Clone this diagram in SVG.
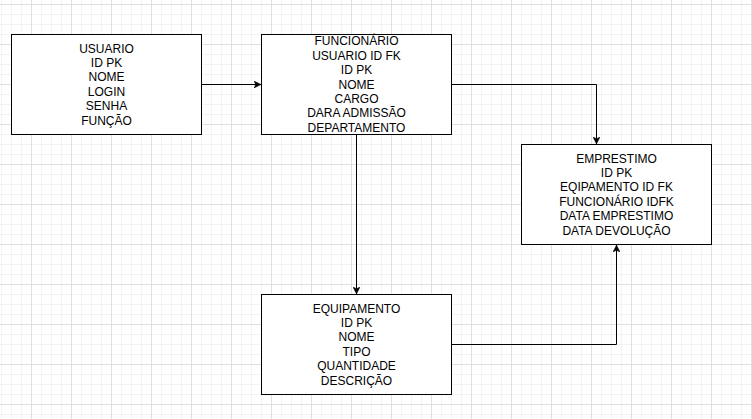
<svg xmlns="http://www.w3.org/2000/svg" width="752" height="419" viewBox="0 0 752 419">
<style>
.box{fill:#ffffff;stroke:#000000;stroke-width:1}
.lbl{font-family:"Liberation Sans",Arial,Helvetica,sans-serif;font-size:12px;fill:#000000;text-anchor:middle}
.edge{fill:none;stroke:#000000;stroke-width:1}
.minor{stroke:#f3f3f3;stroke-width:1}
.major{stroke:#e0e0e0;stroke-width:1}
</style>
<defs>
<pattern id="grid" patternUnits="userSpaceOnUse" x="-9" y="4" width="40" height="40">
<path class="minor" d="M10.5 0V40M20.5 0V40M30.5 0V40M0 10.5H40M0 20.5H40M0 30.5H40"/>
<path class="major" d="M0.5 0V40M0 0.5H40"/>
</pattern>
<marker id="arrow" viewBox="0 0 7 7" refX="7" refY="3.5" markerWidth="7" markerHeight="7" markerUnits="userSpaceOnUse" orient="auto">
<path d="M7 3.5L0 0L1.75 3.5L0 7Z" fill="#000000" stroke="#000000" stroke-width="0.5"/>
</marker>
</defs>
<rect x="0" y="0" width="752" height="419" fill="#ffffff"/>
<rect x="0" y="0" width="752" height="419" fill="url(#grid)"/>
<g id="connectors">
<path class="edge" d="M201.5 84.5H261" marker-end="url(#arrow)"/>
<path class="edge" d="M451.5 84.5H596.5V144" marker-end="url(#arrow)"/>
<path class="edge" d="M356.5 134.5V294" marker-end="url(#arrow)"/>
<path class="edge" d="M451.5 344.5H616.5V245" marker-end="url(#arrow)"/>
</g>
<g id="usuario">
<rect class="box" x="11.5" y="34.5" width="190" height="100"/>
<text class="lbl" x="106.5" y="52.5"><tspan x="106.5">USUARIO</tspan><tspan x="106.5" dy="14.4">ID PK</tspan><tspan x="106.5" dy="14.4">NOME</tspan><tspan x="106.5" dy="14.4">LOGIN</tspan><tspan x="106.5" dy="14.4">SENHA</tspan><tspan x="106.5" dy="14.4">FUNÇÃO</tspan></text>
</g>
<g id="funcionario">
<rect class="box" x="261.5" y="34.5" width="190" height="100"/>
<text class="lbl" x="356.5" y="45.3"><tspan x="356.5">FUNCIONÁRIO</tspan><tspan x="356.5" dy="14.4">USUARIO ID FK</tspan><tspan x="356.5" dy="14.4">ID PK</tspan><tspan x="356.5" dy="14.4">NOME</tspan><tspan x="356.5" dy="14.4">CARGO</tspan><tspan x="356.5" dy="14.4">DARA ADMISSÃO</tspan><tspan x="356.5" dy="14.4">DEPARTAMENTO</tspan></text>
</g>
<g id="emprestimo">
<rect class="box" x="521.5" y="144.5" width="190" height="100"/>
<text class="lbl" x="616.5" y="162.5"><tspan x="616.5">EMPRESTIMO</tspan><tspan x="616.5" dy="14.4">ID PK</tspan><tspan x="616.5" dy="14.4">EQIPAMENTO ID FK</tspan><tspan x="616.5" dy="14.4">FUNCIONÁRIO IDFK</tspan><tspan x="616.5" dy="14.4">DATA EMPRESTIMO</tspan><tspan x="616.5" dy="14.4">DATA DEVOLUÇÃO</tspan></text>
</g>
<g id="equipamento">
<rect class="box" x="261.5" y="294.5" width="190" height="100"/>
<text class="lbl" x="356.5" y="312.5"><tspan x="356.5">EQUIPAMENTO</tspan><tspan x="356.5" dy="14.4">ID PK</tspan><tspan x="356.5" dy="14.4">NOME</tspan><tspan x="356.5" dy="14.4">TIPO</tspan><tspan x="356.5" dy="14.4">QUANTIDADE</tspan><tspan x="356.5" dy="14.4">DESCRIÇÃO</tspan></text>
</g>
</svg>
